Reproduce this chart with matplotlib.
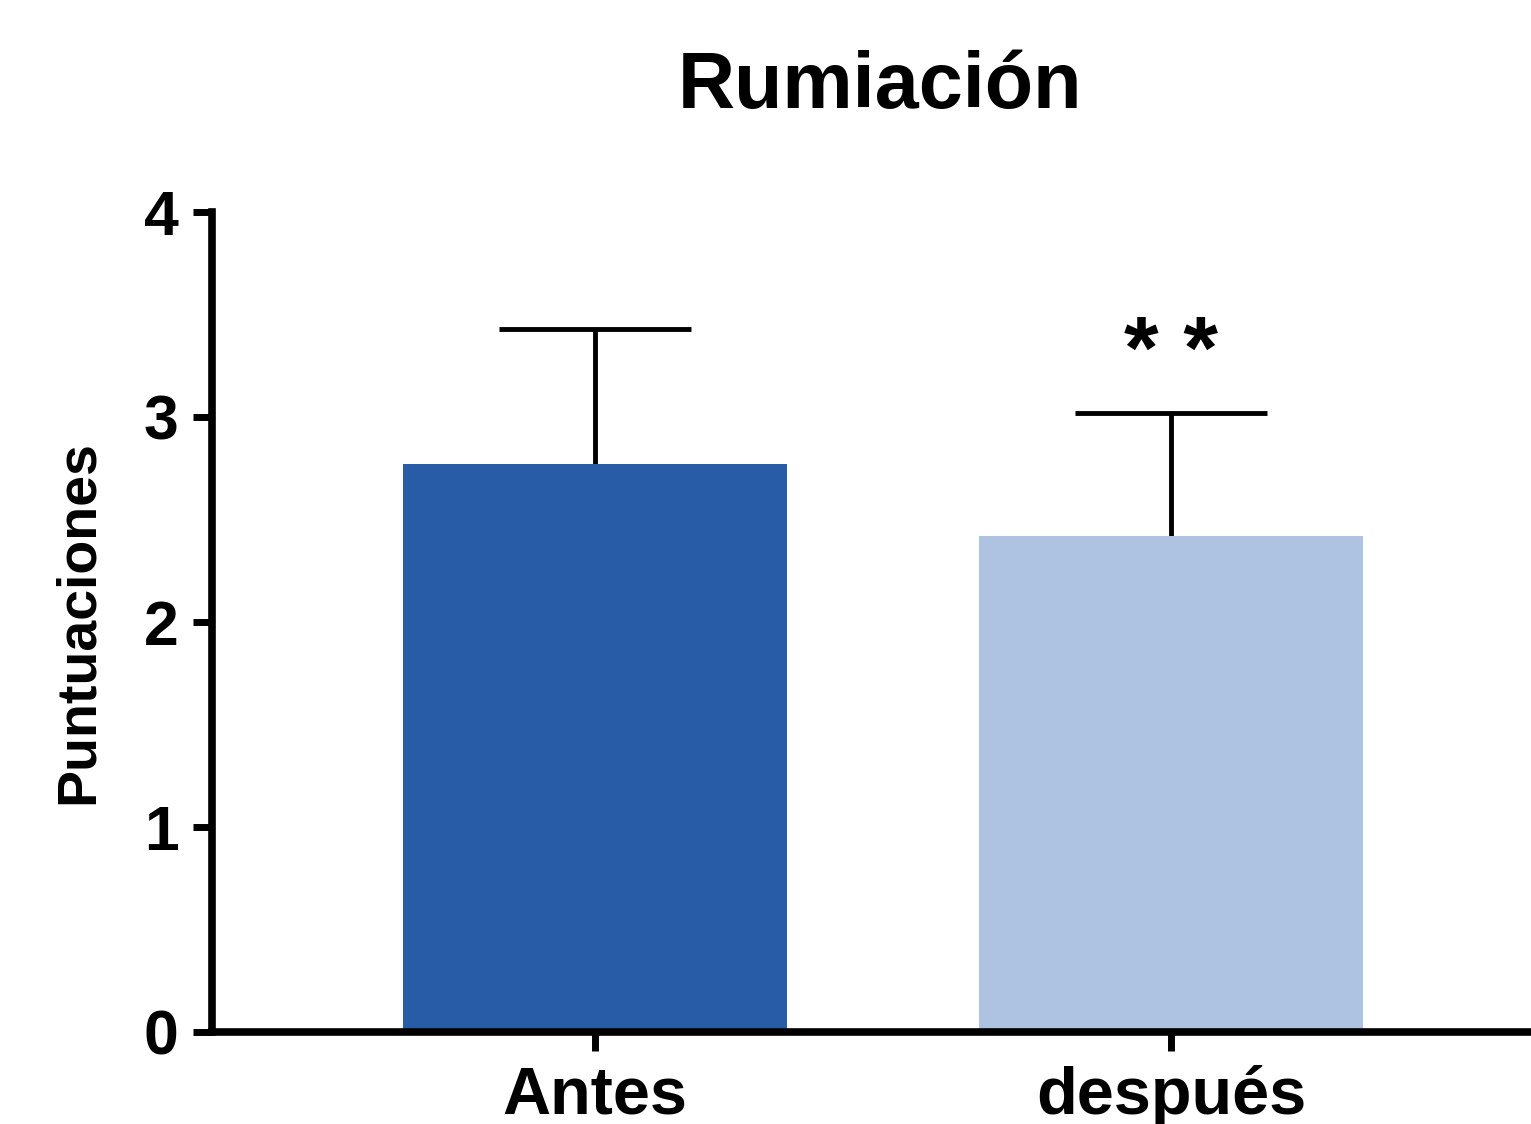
import matplotlib.pyplot as plt

plt.rcParams['font.family'] = ['Liberation Sans', 'DejaVu Sans']
plt.rcParams['font.weight'] = 'bold'

groups = ['Antes', 'después']
means = [2.77, 2.42]
sds = [0.66, 0.60]
colors = ['#285ca7', '#aec3e1']
signif = ['', '* *']

fig = plt.figure(figsize=(15.31, 11.24), dpi=100)
ax = fig.add_axes([0.1385, 0.0819, 0.8615, 0.7295])

x = [0, 1]
ax.bar(x, means, width=0.668, color=colors, zorder=2)

# upper error bars only (stem + cap)
cap = 0.167
for xi, m, s in zip(x, means, sds):
    ax.vlines(xi, m, m + s, color='black', linewidth=3.5, zorder=1)
    ax.hlines(m + s, xi - cap, xi + cap, color='black', linewidth=3.5, zorder=1)

for xi, m, s, lab in zip(x, means, sds, signif):
    if lab:
        ax.text(xi, m + s + 0.17, lab, ha='center', va='baseline',
                fontsize=64, fontweight='bold')

ax.set_xlim(-0.665, 1.625)
ax.set_ylim(0, 4)
ax.set_yticks([0, 1, 2, 3, 4])
ax.set_xticks(x)
ax.set_xticklabels(groups)

for side in ['top', 'right']:
    ax.spines[side].set_visible(False)
for side in ['left', 'bottom']:
    ax.spines[side].set_linewidth(5.5)
    ax.spines[side].set_zorder(3)

ax.tick_params(axis='both', width=5, length=14, labelsize=45, pad=10)
ax.tick_params(axis='x', labelsize=48, pad=10)
for lbl in ax.get_xticklabels() + ax.get_yticklabels():
    lbl.set_fontweight('bold')

ax.set_ylabel('Puntuaciones', fontsize=40, fontweight='bold', labelpad=28)
fig.text(0.575, 0.904, 'Rumiación', ha='center', va='baseline',
         fontsize=57, fontweight='bold')

fig.savefig('out.png', dpi=100)
